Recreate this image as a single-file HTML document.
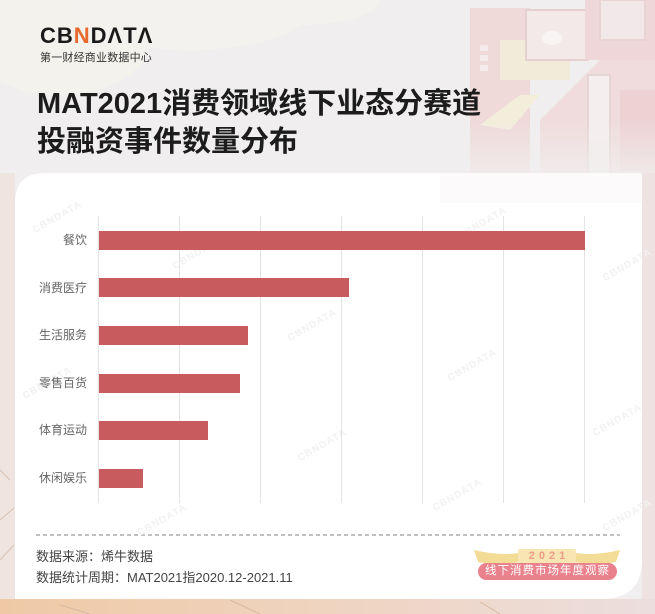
<!DOCTYPE html>
<html><head><meta charset="utf-8">
<style>
html,body{margin:0;padding:0;}
body{width:655px;height:614px;overflow:hidden;background:#f0eeee;font-family:"Liberation Sans","Noto Sans CJK SC",sans-serif;}
#wrap{position:relative;width:655px;height:614px;overflow:hidden;}
.abs{position:absolute;}
.lbl{position:absolute;right:568px;font-size:12px;color:#666;line-height:14px;white-space:nowrap;}
.bar{position:absolute;left:99px;height:19px;background:#c85b5e;}
.grid{position:absolute;top:216px;height:287px;width:1px;background:#e4e2e2;}
.wm{position:absolute;font-size:10px;color:#f3f1f1;transform:rotate(-30deg);font-weight:bold;letter-spacing:1px;}
</style></head>
<body><div id="wrap">
<svg class="abs" style="left:0;top:0" width="655" height="614">
 <defs>
  <linearGradient id="bot" x1="0" x2="1" y1="0" y2="0">
   <stop offset="0" stop-color="#efc9a6"/><stop offset="0.45" stop-color="#efd3bd"/><stop offset="1" stop-color="#ecdede"/>
  </linearGradient>
  <linearGradient id="fade" x1="0" x2="0" y1="0" y2="1">
   <stop offset="0" stop-color="#f0eeee" stop-opacity="0"/><stop offset="1" stop-color="#f0eeee" stop-opacity="0.9"/>
  </linearGradient>
 </defs>
 <rect width="655" height="614" fill="#f0eeee"/>
 <!-- clouds top-left -->
 <ellipse cx="60" cy="40" rx="90" ry="55" fill="#f3f2ec"/>
 <ellipse cx="190" cy="10" rx="120" ry="40" fill="#f3f2ee"/>
 <ellipse cx="300" cy="0" rx="80" ry="25" fill="#f3f2ee"/>
 <!-- buildings -->
 <g opacity="0.75">
  <rect x="470" y="8" width="60" height="200" fill="#efd2d2"/>
  <rect x="480" y="45" width="8" height="6" fill="#f6eaea"/>
  <rect x="480" y="55" width="8" height="6" fill="#f6eaea"/>
  <rect x="480" y="65" width="8" height="6" fill="#f6eaea"/>
  <rect x="500" y="40" width="70" height="40" fill="#f4ead2"/>
  <rect x="526" y="10" width="62" height="50" fill="#f4e8e8" stroke="#e2c6c6" stroke-width="2"/>
  <ellipse cx="552" cy="38" rx="10" ry="7" fill="#fbf6f6"/>
  <rect x="585" y="0" width="70" height="60" fill="#efd0d3"/>
  <rect x="600" y="0" width="45" height="40" fill="#f5e6e8" stroke="#e6caca" stroke-width="2"/>
  <polygon points="540,120 600,60 655,60 655,200 540,200" fill="#f0d6d6"/>
  <rect x="588" y="75" width="22" height="120" fill="#f7eeee" stroke="#e5cccc" stroke-width="2"/>
  <polygon points="480,125 520,95 540,95 510,130" fill="#f5edd6"/>
  <rect x="620" y="90" width="35" height="100" fill="#ecc9cc"/>
 </g>
 <rect x="440" y="120" width="215" height="60" fill="url(#fade)"/>
 <!-- side strips -->
 <rect x="0" y="173" width="15" height="430" fill="#efe4df"/>
 <path d="M0 520 L14 508 M0 470 L10 480 M0 560 L14 545" stroke="#d9c2b6" stroke-width="1" fill="none"/>
 <rect x="642" y="173" width="13" height="430" fill="#eee2e2"/>
 <rect x="0" y="599" width="655" height="15" fill="url(#bot)"/>
 <path d="M60 605 L90 614 M230 600 L260 614 M480 602 L500 614" stroke="#d7b9a2" stroke-width="1" fill="none"/>
 <!-- card -->
 <path d="M45 173 L636 173 Q642 173 642 179 L642 559 Q642 599 602 599 L15 599 L15 203 Q15 173 45 173 Z" fill="#ffffff"/>
 <rect x="440" y="173" width="202" height="30" fill="#fbf8f8" opacity="0.7"/>
 <!-- dashed line -->
 <line x1="36" y1="535" x2="620" y2="535" stroke="#9a9a9a" stroke-width="1.2" stroke-dasharray="4,3"/>
 <!-- badge -->
 <path d="M474 550 Q500 556 518 553 L520 562 Q500 566 478 562 Z" fill="#f3dc96"/>
 <path d="M620 550 Q594 556 576 553 L574 562 Q594 566 616 562 Z" fill="#f3dc96"/>
 <rect x="518" y="549" width="58" height="14" rx="2" fill="#f7e6b4"/>
 <rect x="478" y="563" width="139" height="17" rx="8.5" fill="#e9828d"/>
</svg>

<!-- logo -->
<div class="abs" style="left:40px;top:24px;font-size:22px;font-weight:bold;color:#1a1a1a;letter-spacing:1px;line-height:24px;white-space:nowrap;">CB<span style="color:#e8692e">N</span>DΛTΛ</div>
<div class="abs" style="left:40px;top:50px;font-size:11px;color:#333;letter-spacing:0.2px;line-height:14px;white-space:nowrap;font-family:'Noto Sans CJK SC',sans-serif;">第一财经商业数据中心</div>

<!-- title -->
<div class="abs" style="left:37px;top:85px;font-size:29px;font-weight:bold;color:#1c1c1c;line-height:38px;white-space:nowrap;font-family:'Liberation Sans','Noto Sans CJK SC',sans-serif;">MAT2021消费领域线下业态分赛道<br>投融资事件数量分布</div>

<!-- watermarks -->
<div class="wm" style="left:30px;top:212px;">CBNDATA</div>
<div class="wm" style="left:170px;top:248px;">CBNDATA</div>
<div class="wm" style="left:455px;top:218px;">CBNDATA</div>
<div class="wm" style="left:600px;top:260px;">CBNDATA</div>
<div class="wm" style="left:285px;top:320px;">CBNDATA</div>
<div class="wm" style="left:20px;top:378px;">CBNDATA</div>
<div class="wm" style="left:445px;top:360px;">CBNDATA</div>
<div class="wm" style="left:295px;top:440px;">CBNDATA</div>
<div class="wm" style="left:590px;top:415px;">CBNDATA</div>
<div class="wm" style="left:430px;top:490px;">CBNDATA</div>
<div class="wm" style="left:135px;top:515px;">CBNDATA</div>
<div class="wm" style="left:600px;top:510px;">CBNDATA</div>

<!-- grid -->
<div class="grid" style="left:98px"></div>
<div class="grid" style="left:179px"></div>
<div class="grid" style="left:260px"></div>
<div class="grid" style="left:341px"></div>
<div class="grid" style="left:422px"></div>
<div class="grid" style="left:503px"></div>
<div class="grid" style="left:584px"></div>

<!-- bars -->
<div class="bar" style="top:231px;width:486px"></div>
<div class="bar" style="top:278px;width:250px"></div>
<div class="bar" style="top:326px;width:149px"></div>
<div class="bar" style="top:374px;width:141px"></div>
<div class="bar" style="top:421px;width:109px"></div>
<div class="bar" style="top:469px;width:44px"></div>

<!-- labels -->
<div class="lbl" style="top:233px">餐饮</div>
<div class="lbl" style="top:281px">消费医疗</div>
<div class="lbl" style="top:328px">生活服务</div>
<div class="lbl" style="top:376px">零售百货</div>
<div class="lbl" style="top:423px">体育运动</div>
<div class="lbl" style="top:471px">休闲娱乐</div>

<!-- source -->
<div class="abs" style="left:36px;top:548px;font-size:13px;color:#444;line-height:18px;white-space:nowrap;">数据来源：烯牛数据</div>
<div class="abs" style="left:36px;top:569px;font-size:13px;color:#444;line-height:18px;white-space:nowrap;">数据统计周期：MAT2021指2020.12-2021.11</div>

<!-- badge text -->
<div class="abs" style="left:518px;top:549px;width:58px;text-align:center;font-size:11px;font-weight:bold;color:#ef9b86;letter-spacing:4px;line-height:14px;text-indent:4px;">2021</div>
<div class="abs" style="left:478px;top:563px;width:139px;text-align:center;font-size:11.5px;color:#fff;line-height:17px;letter-spacing:1px;white-space:nowrap;">线下消费市场年度观察</div>
</div></body></html>
